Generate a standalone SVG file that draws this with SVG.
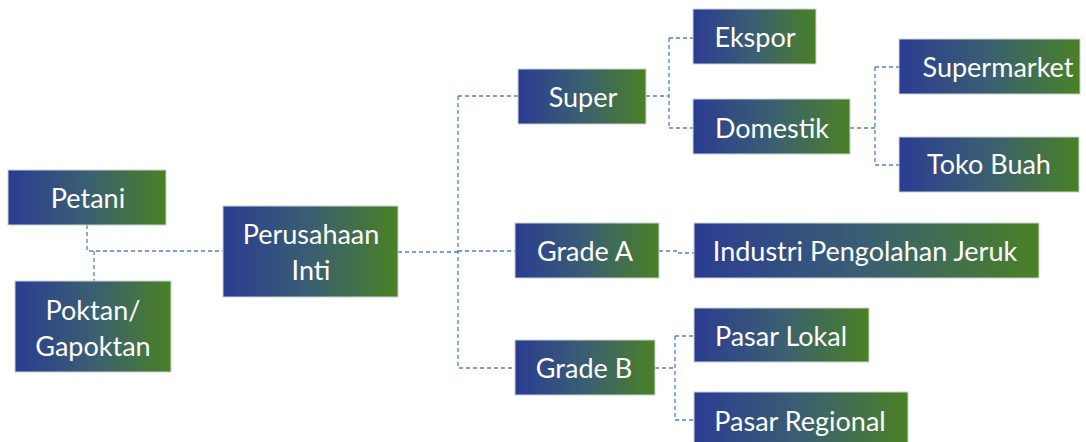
<svg xmlns="http://www.w3.org/2000/svg" width="1086" height="442" viewBox="0 0 1086 442">
  <defs>
    <linearGradient id="fill" x1="0" y1="0" x2="1" y2="0">
      <stop offset="0" stop-color="#2B3C92"/>
      <stop offset="0.5" stop-color="#3A5F72"/>
      <stop offset="1" stop-color="#4A8125"/>
    </linearGradient>
  </defs>
  <style>
    .box { fill: url(#fill); stroke: #C9D3CF; stroke-width: 1; }
    .lbl { font-family: Lato, "Open Sans", sans-serif; font-size: 27px; fill: #FFFFFF; text-anchor: middle; }
    .link { fill: none; stroke: #4F7FD6; stroke-width: 1.3; stroke-dasharray: 4 3; }
  </style>

  <rect width="1086" height="442" fill="#FFFFFF"/>

  <!-- connectors -->
  <g id="connectors">
    <path class="link" d="M87,225 V251 H223"/>
    <path class="link" d="M94,251 V281"/>
    <path class="link" d="M398,252 H458"/>
    <path class="link" d="M458,96 V368 H515"/>
    <path class="link" d="M458,96 H518"/>
    <path class="link" d="M458,251 H515"/>
    <path class="link" d="M646,96 H669"/>
    <path class="link" d="M669,38 V128"/>
    <path class="link" d="M669,38 H693"/>
    <path class="link" d="M669,128 H693"/>
    <path class="link" d="M850,128 H875"/>
    <path class="link" d="M875,67 V165"/>
    <path class="link" d="M875,67 H899"/>
    <path class="link" d="M875,165 H899"/>
    <path class="link" d="M659,251 H677 V253 H694"/>
    <path class="link" d="M655,368 H675"/>
    <path class="link" d="M675,336 V420"/>
    <path class="link" d="M675,336 H694"/>
    <path class="link" d="M675,420 H694"/>
  </g>

  <g id="petani">
    <rect class="box" x="8" y="170" width="158" height="55"/>
    <text class="lbl" x="88" y="208">Petani</text>
  </g>
  <g id="poktan">
    <rect class="box" x="15" y="281" width="156" height="91"/>
    <text class="lbl" x="93" y="320">Poktan/</text>
    <text class="lbl" x="93" y="356">Gapoktan</text>
  </g>
  <g id="perusahaan-inti">
    <rect class="box" x="223" y="206" width="175" height="91"/>
    <text class="lbl" x="311" y="244">Perusahaan</text>
    <text class="lbl" x="311" y="280">Inti</text>
  </g>
  <g id="super">
    <rect class="box" x="518" y="69" width="128" height="55"/>
    <text class="lbl" x="583" y="107">Super</text>
  </g>
  <g id="ekspor">
    <rect class="box" x="693" y="9" width="123" height="55"/>
    <text class="lbl" x="755" y="47">Ekspor</text>
  </g>
  <g id="domestik">
    <rect class="box" x="693" y="99" width="157" height="55"/>
    <text class="lbl" x="772" y="138">Domestik</text>
  </g>
  <g id="supermarket">
    <rect class="box" x="899" y="39" width="181" height="55"/>
    <text class="lbl" x="998" y="77">Supermarket</text>
  </g>
  <g id="toko-buah">
    <rect class="box" x="899" y="137" width="180" height="55"/>
    <text class="lbl" x="989" y="174">Toko Buah</text>
  </g>
  <g id="grade-a">
    <rect class="box" x="515" y="223" width="144" height="55"/>
    <text class="lbl" x="585" y="261">Grade A</text>
  </g>
  <g id="industri">
    <rect class="box" x="694" y="223" width="345" height="55"/>
    <text class="lbl" x="865" y="261">Industri Pengolahan Jeruk</text>
  </g>
  <g id="grade-b">
    <rect class="box" x="515" y="340" width="140" height="55"/>
    <text class="lbl" x="584" y="378">Grade B</text>
  </g>
  <g id="pasar-lokal">
    <rect class="box" x="694" y="308" width="175" height="54"/>
    <text class="lbl" x="781" y="346">Pasar Lokal</text>
  </g>
  <g id="pasar-regional">
    <rect class="box" x="694" y="392" width="214" height="55"/>
    <text class="lbl" x="800" y="431">Pasar Regional</text>
  </g>
</svg>
